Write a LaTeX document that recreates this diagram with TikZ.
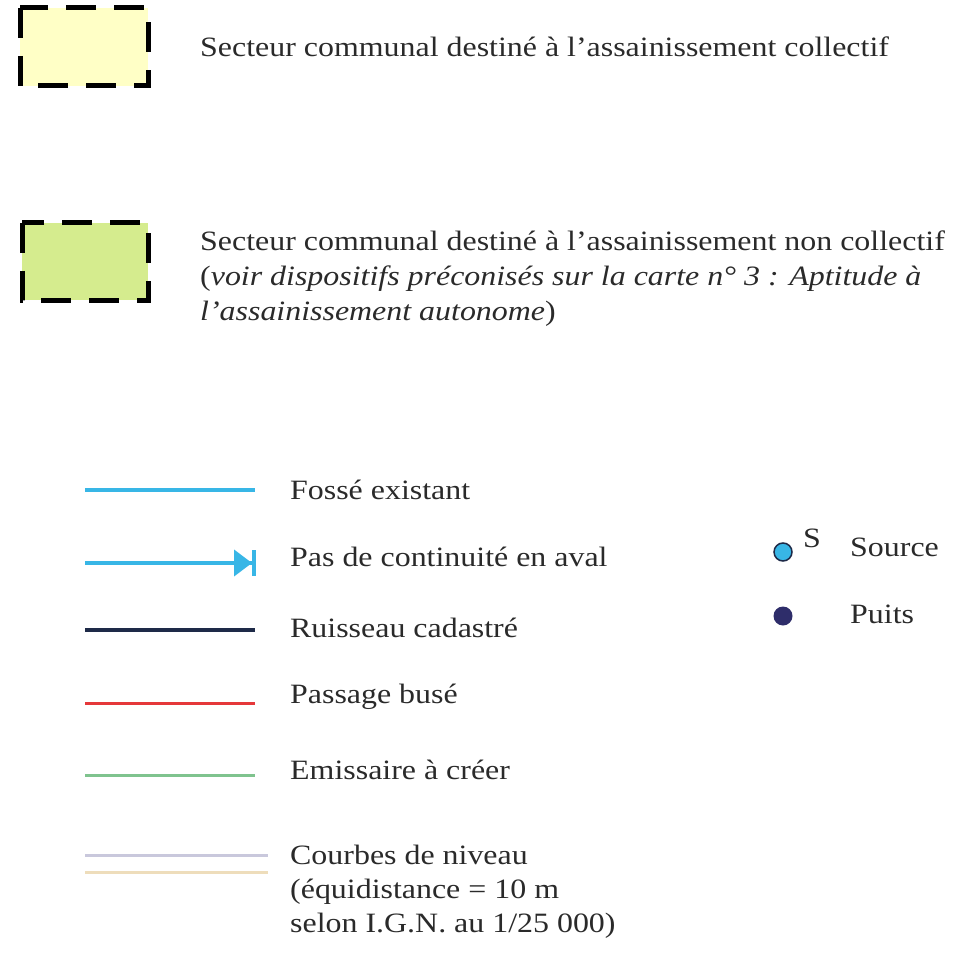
\documentclass[tikz,border=0pt]{standalone}
\usepackage{fontspec}
\setmainfont{Liberation Serif}[FakeStretch=1.14]
\usetikzlibrary{arrows.meta}
\definecolor{jaune}{HTML}{FFFFC6}
\definecolor{vertclair}{HTML}{D5EC8E}
\definecolor{cyanfosse}{HTML}{38B6E6}
\definecolor{marine}{HTML}{1E2A48}
\definecolor{rouge}{HTML}{E5383A}
\definecolor{vertem}{HTML}{7FC38E}
\definecolor{lavande}{HTML}{C9C8DC}
\definecolor{beige}{HTML}{EEDDBB}
\definecolor{puits}{HTML}{2E2D6A}
\definecolor{texte}{HTML}{2A2A2A}
\tikzset{>=stealth,
  secteur/.style={draw=black,line width=5pt,dash pattern=on 30pt off 18pt},
  legende/.style={anchor=west,inner sep=0pt,text=texte,font=\fontsize{28}{35}\selectfont},
  trait/.style={line width=4pt}}

\begin{document}
\begin{tikzpicture}[x=1pt,y=-1pt]
\useasboundingbox (0,0) rectangle (954,957);
% secteurs
\filldraw[secteur,fill=jaune] (20,8) rectangle (148,86);
\node[legende] (coll) at (200,47) {Secteur communal destiné à l’assainissement collectif};
\filldraw[secteur,fill=vertclair] (22,223) rectangle (148,300);
\node[legende,align=left] (noncoll) at (200,279) {Secteur communal destiné à l’assainissement non collectif\\
(\textit{voir dispositifs préconisés sur la carte n° 3 : Aptitude à}\\
\textit{l’assainissement autonome})};
% lignes
\coordinate (a1) at (85,490); \coordinate (b1) at (255,490);
\coordinate (a2) at (85,563); \coordinate (b2) at (256,563);
\coordinate (a3) at (85,630); \coordinate (b3) at (255,630);
\coordinate (a4) at (85,703); \coordinate (b4) at (255,703);
\coordinate (a5) at (85,775); \coordinate (b5) at (255,775);
\coordinate (a6) at (85,855); \coordinate (b6) at (268,855);
\coordinate (a7) at (85,872); \coordinate (b7) at (268,872);
\draw[trait,cyanfosse] (a1) -- (b1);
\draw[trait,cyanfosse,-{Triangle[length=18pt,width=26pt]Bar[width=26pt,line width=4pt]}] (a2) -- (b2);
\draw[trait,marine] (a3) -- (b3);
\draw[trait,rouge,line width=3pt] (a4) -- (b4);
\draw[trait,vertem,line width=3pt] (a5) -- (b5);
\draw[lavande,line width=3pt] (a6) -- (b6);
\draw[beige,line width=3pt] (a7) -- (b7);
\node[legende] (fosse) at (290,490) {Fossé existant};
\node[legende] (pas) at (290,557) {Pas de continuité en aval};
\node[legende] (ruis) at (290,628) {Ruisseau cadastré};
\node[legende] (buse) at (290,697) {Passage busé};
\node[legende] (emis) at (290,770) {Emissaire à créer};
\node[legende,align=left,font=\fontsize{28}{34}\selectfont] (courbes) at (290,892) {Courbes de niveau\\(équidistance = 10 m\\selon I.G.N. au 1/25 000)};
% points
\filldraw[draw=marine,fill=cyanfosse,line width=1.5pt] (783,552) circle (9pt);
\node[legende] (s) at (803,538) {S};
\node[legende] (source) at (850,547) {Source};
\fill[puits] (783,616) circle (9.5pt);
\node[legende] (puits) at (850,614) {Puits};
\end{tikzpicture}
\end{document}
